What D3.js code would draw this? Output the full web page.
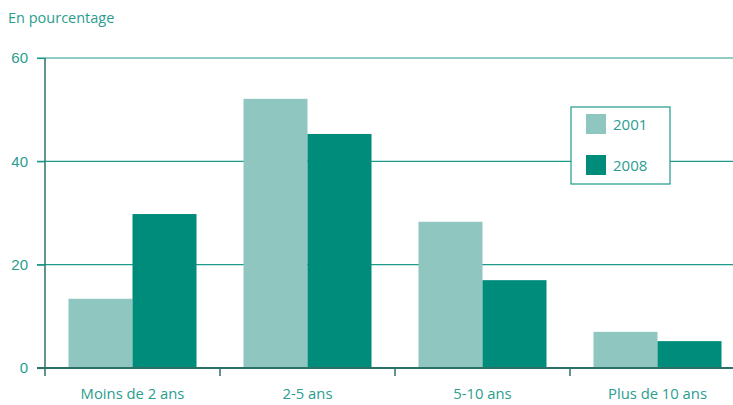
<!DOCTYPE html>
<html>
<head>
<meta charset="utf-8">
<script src="https://cdn.jsdelivr.net/npm/d3@7"></script>
<style>
  body { margin: 0; background: #fff; }
  svg { display: block; font-family: "Open Sans", "Noto Sans", sans-serif; }
</style>
</head>
<body>
<svg id="chart" width="733" height="405"></svg>
<script>
// Share by duration band, in percent
const categories = ["Moins de 2 ans", "2-5 ans", "5-10 ans", "Plus de 10 ans"];
const series = ["2001", "2008"];
const values2001 = [13.4, 52.1, 28.3, 7.0];
const values2008 = [29.8, 45.3, 17.0, 5.2];
const yTicks = [0, 20, 40, 60];

const colors = { "2001": "#8fc7c0", "2008": "#008c7a" };
const textColor = "#2a9d8f";
const gridColor = "#1e9a8b";
const axisColor = "#2c7068";

const svg = d3.select("#chart");
const mLeft = 45, mRight = 745, mTop = 58, mBottom = 368, plotRight = 733;

const x = d3.scaleBand().domain(categories).range([mLeft, mRight]).paddingInner(0).paddingOuter(0);
const xs = d3.scaleBand().domain(series).range([0, x.bandwidth()]).paddingInner(0).paddingOuter(0.367);
const y = d3.scaleLinear().domain([0, 60]).range([mBottom, mTop]);

// horizontal gridlines
svg.append("g").selectAll("line").data(yTicks.filter(d => d > 0)).join("line")
  .attr("x1", mLeft - 8).attr("x2", plotRight)
  .attr("y1", d => y(d)).attr("y2", d => y(d))
  .attr("stroke", gridColor).attr("stroke-width", 1.2);

// bars
const rows = categories.map((c, i) => ({ c, v: { "2001": values2001[i], "2008": values2008[i] } }));
const groups = svg.append("g").selectAll("g").data(rows).join("g")
  .attr("transform", d => `translate(${x(d.c)},0)`);
groups.selectAll("rect").data(d => series.map(s => ({ s, v: d.v[s] }))).join("rect")
  .attr("x", d => xs(d.s)).attr("width", xs.bandwidth())
  .attr("y", d => y(d.v)).attr("height", d => y(0) - y(d.v))
  .attr("fill", d => colors[d.s]);

// y axis
const yAxis = svg.append("g").attr("transform", `translate(${mLeft},0)`)
  .call(d3.axisLeft(y).tickValues(yTicks).tickSize(8).tickPadding(9));
yAxis.select(".domain").attr("stroke", axisColor).attr("stroke-width", 1.5).attr("d", `M0,${mTop}V${mBottom}`);
yAxis.selectAll(".tick line").attr("stroke", gridColor).attr("stroke-width", 1.2);
yAxis.selectAll(".tick text").attr("fill", textColor).style("font-size", "15px");

// x axis baseline and ticks
svg.append("line").attr("x1", mLeft - 8).attr("x2", plotRight)
  .attr("y1", mBottom).attr("y2", mBottom)
  .attr("stroke", axisColor).attr("stroke-width", 2);
const boundaries = categories.map(c => x(c));
svg.append("g").selectAll("line").data(boundaries).join("line")
  .attr("x1", d => d).attr("x2", d => d)
  .attr("y1", mBottom).attr("y2", mBottom + 8)
  .attr("stroke", axisColor).attr("stroke-width", 1.5);
svg.append("g").selectAll("text").data(categories).join("text")
  .attr("x", d => x(d) + x.bandwidth() / 2)
  .attr("y", 399)
  .attr("text-anchor", "middle")
  .attr("fill", textColor).style("font-size", "14.8px")
  .text(d => d);

// unit label
svg.append("text").attr("x", 8).attr("y", 23)
  .attr("fill", textColor).style("font-size", "14.5px").text("En pourcentage");

// legend
const lg = svg.append("g").attr("transform", "translate(571,107)");
lg.append("rect").attr("width", 99).attr("height", 77)
  .attr("fill", "#fff").attr("stroke", gridColor).attr("stroke-width", 1.2);
series.forEach((s, i) => {
  lg.append("rect").attr("x", 15).attr("y", 7 + i * 41).attr("width", 20).attr("height", 20)
    .attr("fill", colors[s]);
  lg.append("text").attr("x", 42).attr("y", 23 + i * 41)
    .attr("fill", textColor).style("font-size", "15px").text(s);
});
</script>
</body>
</html>
